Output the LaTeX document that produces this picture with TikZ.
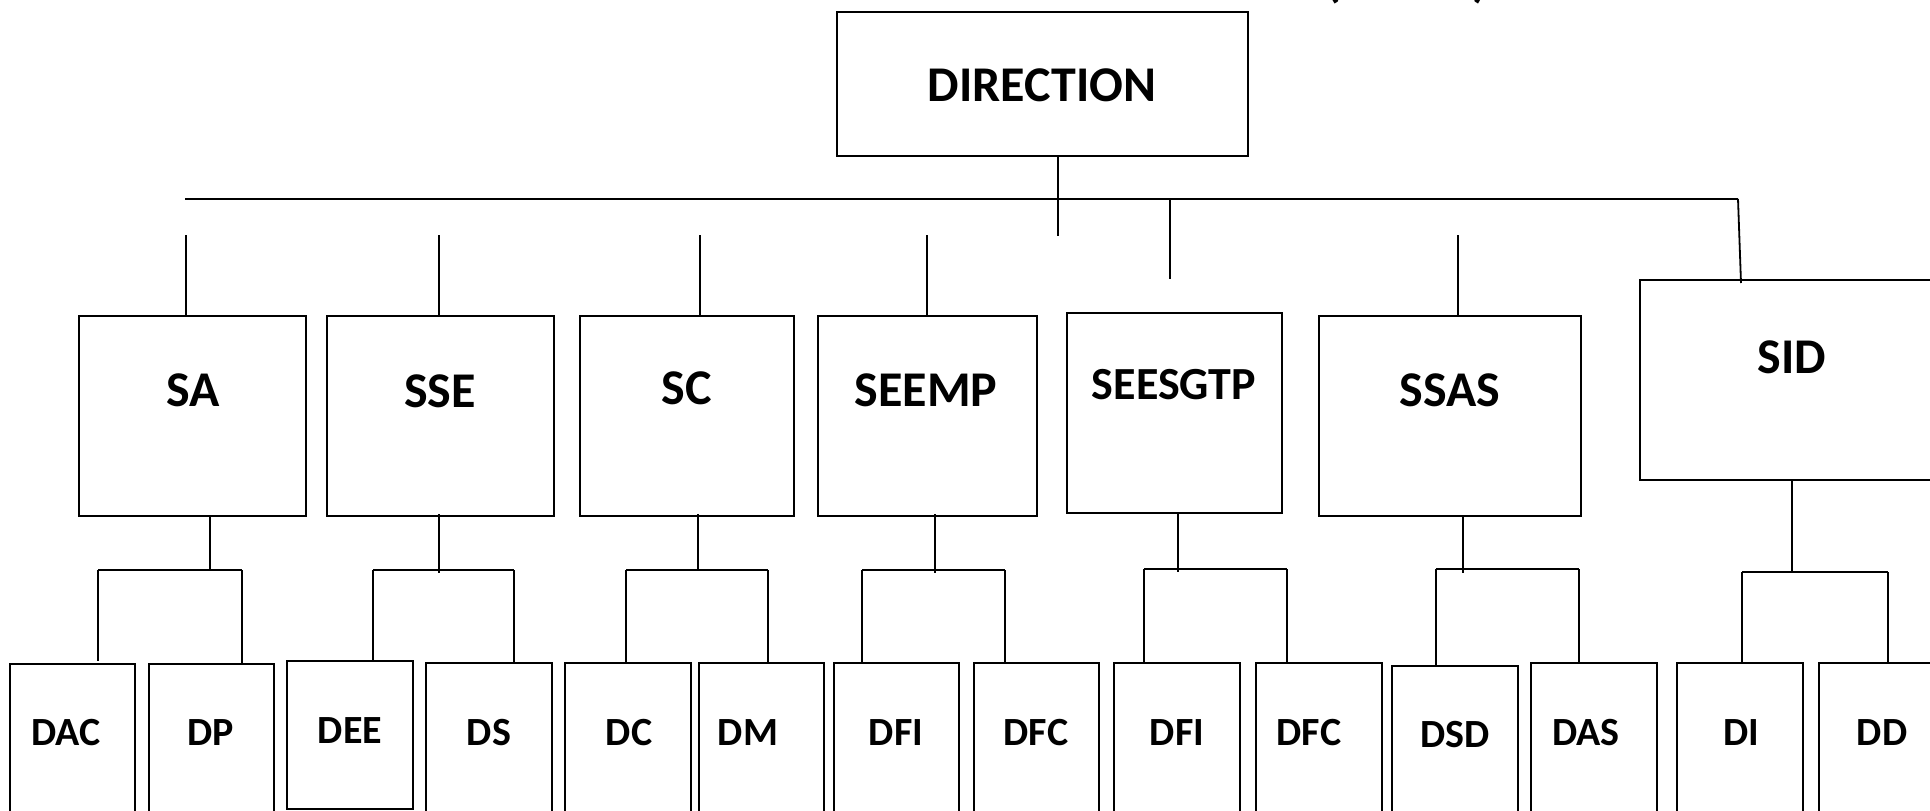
\documentclass[tikz,border=0pt]{standalone}
\usepackage{fontspec}
\setmainfont{Carlito}
\begin{document}
\begin{tikzpicture}[x=1pt,y=-1pt,
  box/.style={draw, line width=2pt, rectangle, inner sep=0pt},
  ln/.style={line width=1.8pt},
  big/.style={font=\fontsize{50}{60}\selectfont\bfseries, inner sep=0pt},
  mid/.style={font=\fontsize{46}{55}\selectfont\bfseries, inner sep=0pt},
  small/.style={font=\fontsize{40}{48}\selectfont\bfseries, inner sep=0pt}]
\fill[white] (0,0) rectangle (1930,811);
\useasboundingbox (0,0) rectangle (1930,811);

% clipped text fragment at the top
\node[big, anchor=base] (parL) at (1333,-3) {(};
\node[big, anchor=base] (parR) at (1480,-3) {)};

% top box
\node[box, minimum width=411pt, minimum height=144pt] (DIR) at (1042.5,84) {};
\node[big] (DIRt) at (1042,85) {DIRECTION};

% level 2 boxes
\node[box, minimum width=227pt, minimum height=200pt] (SA) at (192.5,416) {};
\node[big] (SAt) at (193,390) {SA};
\node[box, minimum width=227pt, minimum height=200pt] (SSE) at (440.5,416) {};
\node[big] (SSEt) at (440,391) {SSE};
\node[box, minimum width=214pt, minimum height=200pt] (SC) at (687,416) {};
\node[big] (SCt) at (687,388) {SC};
\node[box, minimum width=219pt, minimum height=200pt] (SEEMP) at (927.5,416) {};
\node[big] (SEEMPt) at (926,390) {SEEMP};
\node[box, minimum width=215pt, minimum height=200pt] (SEESGTP) at (1174.5,413) {};
\node[mid] (SEESGTPt) at (1174,385) {SEESGTP};
\node[box, minimum width=262pt, minimum height=200pt] (SSAS) at (1450,416) {};
\node[big] (SSASt) at (1450,390) {SSAS};
\node[box, minimum width=304pt, minimum height=200pt] (SID) at (1792,380) {};
\node[big] (SIDt) at (1792,357) {SID};

% level 3 boxes
\node[box, minimum width=125pt, minimum height=151pt] (DAC) at (72.5,739.5) {};
\node[small] (DACt) at (66,733) {DAC};
\node[box, minimum width=125pt, minimum height=151pt] (DP) at (211.5,739.5) {};
\node[small] (DPt) at (211,733) {DP};
\node[box, minimum width=126pt, minimum height=148pt] (DEE) at (350,735) {};
\node[small] (DEEt) at (350,731) {DEE};
\node[box, minimum width=126pt, minimum height=152pt] (DS) at (489,739) {};
\node[small] (DSt) at (489,733) {DS};
\node[box, minimum width=126pt, minimum height=152pt] (DC) at (628,739) {};
\node[small] (DCt) at (629,733) {DC};
\node[box, minimum width=125pt, minimum height=152pt] (DM) at (761.5,739) {};
\node[small] (DMt) at (748,733) {DM};
\node[box, minimum width=125pt, minimum height=152pt] (DFI) at (896.5,739) {};
\node[small] (DFIt) at (896,733) {DFI};
\node[box, minimum width=125pt, minimum height=152pt] (DFC) at (1036.5,739) {};
\node[small] (DFCt) at (1036,733) {DFC};
\node[box, minimum width=126pt, minimum height=152pt] (DFIb) at (1177,739) {};
\node[small] (DFIbt) at (1177,733) {DFI};
\node[box, minimum width=126pt, minimum height=152pt] (DFCb) at (1319,739) {};
\node[small] (DFCbt) at (1309,733) {DFC};
\node[box, minimum width=126pt, minimum height=149pt] (DSD) at (1455,740.5) {};
\node[small] (DSDt) at (1455,735) {DSD};
\node[box, minimum width=126pt, minimum height=152pt] (DAS) at (1594,739) {};
\node[small] (DASt) at (1586,733) {DAS};
\node[box, minimum width=126pt, minimum height=152pt] (DI) at (1740,739) {};
\node[small] (DIt) at (1741,733) {DI};
\node[box, minimum width=125pt, minimum height=152pt] (DD) at (1881.5,739) {};
\node[small] (DDt) at (1882,733) {DD};

% top connectors
\coordinate (barL) at (185,199);
\coordinate (barR) at (1738,199);
\coordinate (dirEnd) at (1058,236);
\coordinate (midTick) at (1170,279);
\draw[ln] (barL) -- (barR);
\draw[ln] (DIR.south -| dirEnd) -- (dirEnd);
\draw[ln] (barL -| midTick) -- (midTick);
\coordinate (saTop) at (186,235);
\coordinate (sseTop) at (439,235);
\coordinate (scTop) at (700,235);
\coordinate (seempTop) at (927,235);
\coordinate (ssasTop) at (1458,235);
\draw[ln] (saTop) -- (saTop |- SA.north);
\draw[ln] (sseTop) -- (sseTop |- SSE.north);
\draw[ln] (scTop) -- (scTop |- SC.north);
\draw[ln] (seempTop) -- (seempTop |- SEEMP.north);
\draw[ln] (ssasTop) -- (ssasTop |- SSAS.north);
\coordinate (sidIn) at (1741,283);
\draw[ln] (barR) -- (sidIn);

% SA bracket
\coordinate (saB) at (210,570);
\coordinate (saBL) at (98,570);
\coordinate (saBR) at (242,570);
\draw[ln] (SA.south -| saB) -- (saB);
\draw[ln] (saBL) -- (saBR);
\coordinate (saDL) at (98,661);
\draw[ln] (saBL) -- (saDL);
\draw[ln] (saBR) -- ([yshift=-2pt]saBR |- DP.north);

% SSE bracket
\coordinate (sseB) at (439,573);
\coordinate (sseBL) at (373,570);
\coordinate (sseBR) at (514,570);
\draw[ln] ([yshift=3pt]SSE.south -| sseB) -- (sseB);
\draw[ln] (sseBL) -- (sseBR);
\draw[ln] (sseBL) -- (sseBL |- DEE.north);
\draw[ln] (sseBR) -- (sseBR |- DS.north);

% SC bracket
\coordinate (scB) at (698,571);
\coordinate (scBL) at (626,570);
\coordinate (scBR) at (768,570);
\draw[ln] ([yshift=3pt]SC.south -| scB) -- (scB);
\draw[ln] (scBL) -- (scBR);
\draw[ln] (scBL) -- (scBL |- DC.north);
\draw[ln] (scBR) -- (scBR |- DM.north);

% SEEMP bracket
\coordinate (seB) at (935,573);
\coordinate (seBL) at (862,570);
\coordinate (seBR) at (1005,570);
\draw[ln] ([yshift=3pt]SEEMP.south -| seB) -- (seB);
\draw[ln] (seBL) -- (seBR);
\draw[ln] (seBL) -- (seBL |- DFI.north);
\draw[ln] (seBR) -- (seBR |- DFC.north);

% SEESGTP bracket
\coordinate (sgB) at (1178,572);
\coordinate (sgBL) at (1144,569);
\coordinate (sgBR) at (1287,569);
\draw[ln] (SEESGTP.south -| sgB) -- (sgB);
\draw[ln] (sgBL) -- (sgBR);
\draw[ln] (sgBL) -- (sgBL |- DFIb.north);
\draw[ln] (sgBR) -- (sgBR |- DFCb.north);

% SSAS bracket
\coordinate (ssB) at (1463,573);
\coordinate (ssBL) at (1436,569);
\coordinate (ssBR) at (1579,569);
\draw[ln] (SSAS.south -| ssB) -- (ssB);
\draw[ln] (ssBL) -- (ssBR);
\draw[ln] (ssBL) -- ([yshift=-2pt]ssBL |- DSD.north);
\draw[ln] (ssBR) -- (ssBR |- DAS.north);

% SID bracket
\coordinate (sidB) at (1792,572);
\coordinate (sidBL) at (1742,572);
\coordinate (sidBR) at (1888,572);
\draw[ln] (SID.south -| sidB) -- (sidB);
\draw[ln] (sidBL) -- (sidBR);
\draw[ln] (sidBL) -- (sidBL |- DI.north);
\draw[ln] (sidBR) -- (sidBR |- DD.north);
\end{tikzpicture}
\end{document}
